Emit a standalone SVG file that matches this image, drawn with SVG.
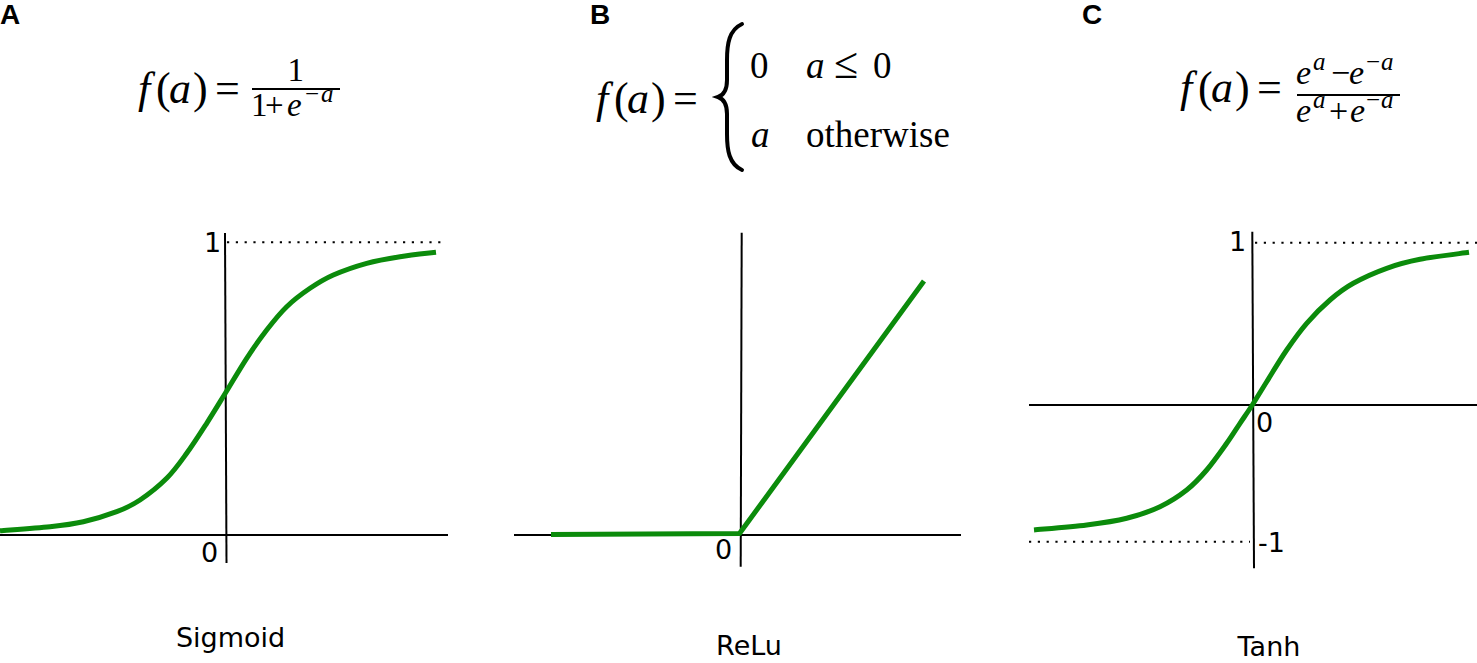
<svg xmlns="http://www.w3.org/2000/svg" width="1477" height="663" viewBox="0 0 1477 663">
  <style>
    .panel { font-family: "Liberation Sans", Arial, sans-serif; font-weight: bold; font-size: 28px; fill: #000; }
    .m { font-family: "Liberation Serif", "Times New Roman", serif; fill: #000; }
    .i { font-style: italic; }
    .big { font-size: 44px; }
    .fr { font-size: 33px; }
    .frc { font-size: 34px; }
    .sup { font-size: 25px; }
    .row { font-size: 37px; }
    .tick { font-family: "DejaVu Sans", sans-serif; font-size: 27px; fill: #000; }
    .name { font-family: "DejaVu Sans", sans-serif; font-size: 27px; fill: #000; text-anchor: middle; }
    .axis { stroke: #000; stroke-width: 2; fill: none; }
    .dot { stroke: #000; stroke-width: 2; stroke-dasharray: 2.2 6.6; fill: none; }
    .curve { stroke: #0b8b0b; stroke-width: 5; fill: none; stroke-linejoin: round; }
    .bar { stroke: #000; stroke-width: 1.8; }
  </style>

  <!-- Panel A: Sigmoid -->
  <g id="panel-a">
    <text class="panel" x="0" y="24">A</text>
    <g id="formula-a" class="m">
      <text class="big" y="103"><tspan class="i" x="138">f</tspan><tspan x="156">(</tspan><tspan class="i" x="169">a</tspan><tspan x="193">)</tspan><tspan x="215">=</tspan></text>
      <text class="fr" x="287.5" y="81">1</text>
      <line class="bar" x1="252" y1="89" x2="340" y2="89"/>
      <text class="fr" y="116"><tspan x="251">1</tspan><tspan x="265">+</tspan><tspan class="i" x="287">e</tspan></text>
      <text class="sup" y="102"><tspan x="305">−</tspan><tspan class="i" x="321">a</tspan></text>
    </g>
    <g id="plot-a">
      <line class="axis" x1="0" y1="535" x2="448" y2="535"/>
      <line class="axis" x1="225" y1="233" x2="226.5" y2="563"/>
      <line class="dot" x1="227" y1="242.3" x2="447" y2="242.3"/>
      <path class="curve" d="M0,530.7 C8.33,530.03 36.12,528.2 50,526.7 C63.88,525.2 72.18,524.2 83.3,521.7 C94.42,519.2 107.25,515.32 116.7,511.7 C126.15,508.08 131.67,505.57 140,500 C148.33,494.43 158.92,486.08 166.7,478.3 C174.48,470.52 180.03,462.47 186.7,453.3 C193.37,444.13 200.27,433.3 206.7,423.3 C213.13,413.3 218.63,404.13 225.3,393.3 C231.97,382.47 239.8,368.85 246.7,358.3 C253.6,347.75 260.03,338.6 266.7,330 C273.37,321.4 279.48,313.65 286.7,306.7 C293.92,299.75 302.23,293.58 310,288.3 C317.77,283.02 323.85,279.17 333.3,275 C342.75,270.83 355.58,266.35 366.7,263.3 C377.82,260.25 388.45,258.53 400,256.7 C411.55,254.87 430,253.03 436,252.3"/>
      <text class="tick" x="204" y="252">1</text>
      <text class="tick" x="201" y="562">0</text>
    </g>
    <text class="name" x="230.5" y="647">Sigmoid</text>
  </g>

  <!-- Panel B: ReLu -->
  <g id="panel-b">
    <text class="panel" x="590" y="24">B</text>
    <g id="formula-b" class="m">
      <text class="big" y="113"><tspan class="i" x="596">f</tspan><tspan x="614">(</tspan><tspan class="i" x="627">a</tspan><tspan x="651">)</tspan><tspan x="673">=</tspan></text>
      <path d="M742,24 C729,30 727,44 727,60 L727,80 C727,90 724,95 718,97 C724,99 727,104 727,114 L727,134 C727,150 729,164 742,170" fill="none" stroke="#000" stroke-width="4" stroke-linecap="round"/>
      <text class="row" y="78"><tspan x="750">0</tspan><tspan class="i" x="806">a</tspan></text>
      <text class="big" x="834" y="78">≤</text>
      <text class="row" x="873" y="78">0</text>
      <text class="row" y="147"><tspan class="i" x="751">a</tspan><tspan x="806">otherwise</tspan></text>
    </g>
    <g id="plot-b">
      <line class="axis" x1="514" y1="535" x2="961" y2="535"/>
      <line class="axis" x1="741.7" y1="232.7" x2="740.7" y2="566.7"/>
      <polyline class="curve" points="551,534.5 739.5,533.5 924,281"/>
      <text class="tick" x="715" y="559">0</text>
    </g>
    <text class="name" x="749" y="655">ReLu</text>
  </g>

  <!-- Panel C: Tanh -->
  <g id="panel-c">
    <text class="panel" x="1082" y="24">C</text>
    <g id="formula-c" class="m">
      <text class="big" y="102"><tspan class="i" x="1180">f</tspan><tspan x="1198">(</tspan><tspan class="i" x="1211">a</tspan><tspan x="1235">)</tspan><tspan x="1257">=</tspan></text>
      <text class="frc" y="84"><tspan class="i" x="1296">e</tspan><tspan x="1331">−</tspan><tspan class="i" x="1349">e</tspan></text>
      <text class="sup" y="70"><tspan class="i" x="1313">a</tspan><tspan x="1366">−</tspan><tspan class="i" x="1381">a</tspan></text>
      <line class="bar" x1="1297" y1="95" x2="1400" y2="95"/>
      <text class="frc" y="122"><tspan class="i" x="1296">e</tspan><tspan x="1329">+</tspan><tspan class="i" x="1350">e</tspan></text>
      <text class="sup" y="108"><tspan class="i" x="1313">a</tspan><tspan x="1366">−</tspan><tspan class="i" x="1381">a</tspan></text>
    </g>
    <g id="plot-c">
      <line class="axis" x1="1029" y1="405" x2="1477" y2="405"/>
      <line class="axis" x1="1252.3" y1="231.7" x2="1254" y2="568.3"/>
      <line class="dot" x1="1255" y1="242.7" x2="1477" y2="242.7"/>
      <line class="dot" x1="1029" y1="541.7" x2="1250" y2="541.7"/>
      <path class="curve" d="M1034,530 C1042.78,529.17 1071.25,526.95 1086.7,525 C1102.15,523.05 1114.48,521.35 1126.7,518.3 C1138.92,515.25 1150,511.42 1160,506.7 C1170,501.98 1178.92,496.12 1186.7,490 C1194.48,483.88 1200.03,477.78 1206.7,470 C1213.37,462.22 1221.15,451.08 1226.7,443.3 C1232.25,435.52 1235.73,429.68 1240,423.3 C1244.27,416.92 1247.85,411.93 1252.3,405 C1256.75,398.07 1260.97,390.87 1266.7,381.7 C1272.43,372.53 1280.03,359.73 1286.7,350 C1293.37,340.27 1299.48,331.63 1306.7,323.3 C1313.92,314.97 1322.23,306.67 1330,300 C1337.77,293.33 1343.85,288.58 1353.3,283.3 C1362.75,278.02 1375.58,272.3 1386.7,268.3 C1397.82,264.3 1406.28,261.97 1420,259.3 C1433.72,256.63 1460.83,253.47 1469,252.3"/>
      <text class="tick" x="1229" y="251">1</text>
      <text class="tick" x="1256" y="432">0</text>
      <text class="tick" x="1258" y="552">-1</text>
    </g>
    <text class="name" x="1269" y="656">Tanh</text>
  </g>
</svg>
